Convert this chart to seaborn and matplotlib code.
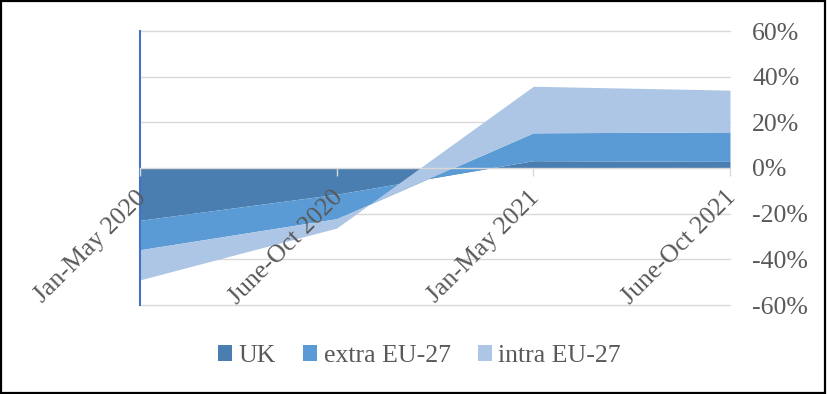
import matplotlib
matplotlib.use("Agg")
import matplotlib.pyplot as plt
import matplotlib.transforms as mtransforms
from matplotlib.patches import Patch, Rectangle
from matplotlib.ticker import FuncFormatter
import numpy as np
import pandas as pd
import seaborn as sns

# Periods and percentage changes per origin (stacked)
periods = ["Jan-May 2020", "June-Oct 2020", "Jan-May 2021", "June-Oct 2021"]
uk = [-22.9, -11.5, 3.2, 2.9]
extra_eu27 = [-12.9, -10.7, 12.2, 12.9]
intra_eu27 = [-13.2, -4.1, 20.4, 18.3]
series_names = ["UK", "extra EU-27", "intra EU-27"]
y_ticks = [-60, -40, -20, 0, 20, 40, 60]

colors = ["#4A7EB0", "#5B9BD5", "#ADC6E5"]
text_grey = "#595959"
grid_grey = "#D9D9D9"
fs = 18.5

sns.set_theme(style="white")
plt.rcParams["font.family"] = ["Liberation Serif", "DejaVu Serif"]

df = pd.DataFrame({"period": periods, "UK": uk,
                   "extra EU-27": extra_eu27, "intra EU-27": intra_eu27})

fig = plt.figure(figsize=(8.27, 3.94), dpi=100)
W, H = 827, 394
ax = fig.add_axes([140 / W, 1 - 305 / H, (730 - 140) / W, (305 - 31) / H])

x = np.arange(len(df))
ax.stackplot(x, df["UK"], df["extra EU-27"], df["intra EU-27"],
             colors=colors, linewidth=0, zorder=1)

ax.set_xlim(0, len(df) - 1)
ax.set_ylim(-60, 60)

# horizontal gridlines beneath the areas
for v in y_ticks:
    if v != 0:
        ax.axhline(v, color=grid_grey, linewidth=1.0, zorder=0, clip_on=False)
ax.grid(False)
ax.set_axisbelow(False)

ax.set_yticks(y_ticks)
ax.yaxis.tick_right()
ax.yaxis.set_major_formatter(FuncFormatter(lambda v, _: f"{v:.0f}%"))
ax.tick_params(axis="y", length=0, pad=16, labelsize=fs, labelcolor=text_grey)
for lbl in ax.get_yticklabels():
    lbl.set_horizontalalignment("left")

# category axis crossing at zero
ax.spines["bottom"].set_position(("data", 0))
ax.spines["bottom"].set_color(grid_grey)
ax.spines["bottom"].set_linewidth(1.0)
ax.spines["top"].set_visible(False)
ax.spines["right"].set_visible(False)
ax.spines["left"].set_color("#4472C4")
ax.spines["left"].set_linewidth(1.5)

ax.set_xticks(x)
ax.set_xticklabels(df["period"])
ax.tick_params(axis="x", direction="out", length=5.8, width=1.0, color=grid_grey,
               pad=13, labelsize=fs, labelcolor=text_grey, bottom=True)
shift = mtransforms.ScaledTranslation(3 / 100, 0, fig.dpi_scale_trans)
for lbl in ax.get_xticklabels():
    lbl.set_rotation(45)
    lbl.set_rotation_mode("anchor")
    lbl.set_horizontalalignment("right")
    lbl.set_verticalalignment("center")
    lbl.set_transform(lbl.get_transform() + shift)

ax.set_xlabel("")
ax.set_ylabel("")

handles = [Patch(facecolor=c, edgecolor="none") for c in colors]
fig.legend(handles, series_names, loc="center", ncol=3, frameon=False,
           bbox_to_anchor=(419.5 / W, 1 - 356 / H), fontsize=fs,
           labelcolor=text_grey, handlelength=0.55, handleheight=0.55,
           handletextpad=0.25, columnspacing=1.05)

# outer chart border
fig.patches.append(Rectangle((0.001, 0.002), 0.997, 0.995, transform=fig.transFigure,
                             fill=False, edgecolor="black", linewidth=1.6))

fig.savefig("out.png", dpi=100)
